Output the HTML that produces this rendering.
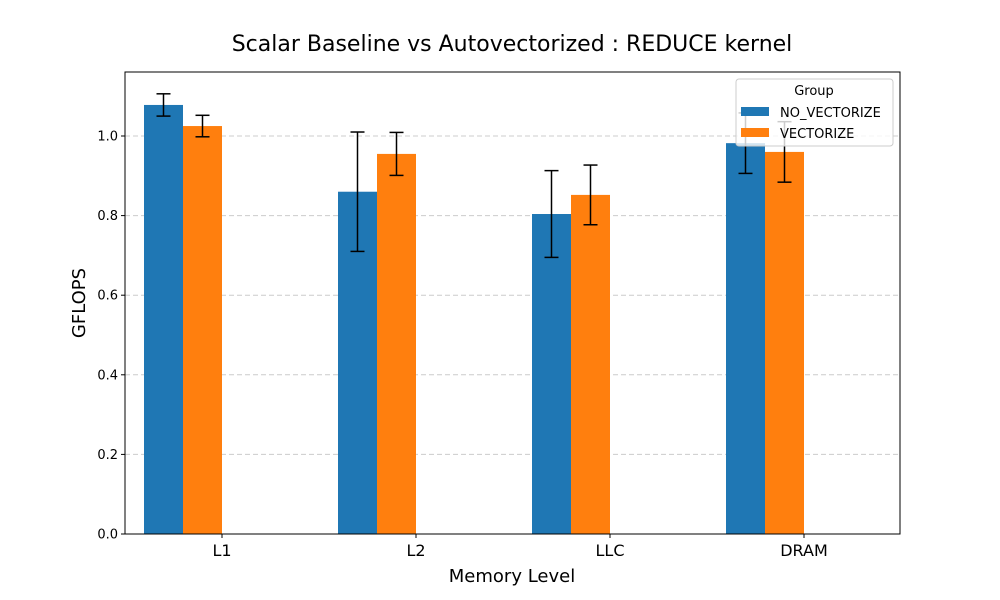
<!DOCTYPE html>
<html><head><meta charset="utf-8"><style>
body{margin:0;background:#fff;}
svg{display:block;font-family:"DejaVu Sans","Liberation Sans",sans-serif;}
</style></head><body>
<svg id="chart" width="1000" height="600">
<text x="512" y="51" font-size="22" text-anchor="middle">Scalar Baseline vs Autovectorized : REDUCE kernel</text>
<g id="grid"></g>
<g id="bars"></g>
<g id="errs"></g>
<g id="axes"></g>
<text x="512" y="582" font-size="18" text-anchor="middle">Memory Level</text>
<text transform="translate(85,303) rotate(-90)" font-size="18" text-anchor="middle">GFLOPS</text>
<g>
<rect x="736" y="79" width="157" height="67" rx="3" fill="#fff" fill-opacity="0.8" stroke="#ccc"/>
<text x="814" y="95" font-size="13" text-anchor="middle">Group</text>
<rect x="741" y="107" width="28" height="9" fill="#1f77b4"/>
<text x="780" y="117" font-size="13">NO_VECTORIZE</text>
<rect x="741" y="128" width="28" height="9" fill="#ff7f0e"/>
<text x="780" y="138" font-size="13">VECTORIZE</text>
</g>
</svg>
<script>
const categories=["L1","L2","LLC","DRAM"];
const noVec=[1.078,0.860,0.804,0.982];
const noVecErr=[0.028,0.150,0.109,0.076];
const vec=[1.025,0.955,0.852,0.960];
const vecErr=[0.027,0.054,0.075,0.076];
const yTicks=[0,0.2,0.4,0.6,0.8,1.0];
const yTickLabels=["0.0","0.2","0.4","0.6","0.8","1.0"];

const NS="http://www.w3.org/2000/svg";
const L=125,R=900,T=72,B=534,YMAX=1.1608;
const y=v=>B-v/YMAX*(B-T);
const x=i=>222+i*194;
function mk(tag,attrs,parent,txt){const e=document.createElementNS(NS,tag);for(const k in attrs)e.setAttribute(k,attrs[k]);if(txt!==undefined)e.textContent=txt;document.getElementById(parent).appendChild(e);return e;}
yTicks.forEach((t,i)=>{
  if(t>0){const g=mk('line',{x1:L,x2:R,y1:y(t),y2:y(t),stroke:'#ccc','stroke-dasharray':'5,3'},'grid');
  
  }
  const tk=mk('line',{x1:L-4,x2:L,y1:y(t),y2:y(t),stroke:'#000'},'axes');
  
  
  const tl=mk('text',{x:L-7,y:y(t)+4.5,'font-size':13,'text-anchor':'end'},'axes',yTickLabels[i]);
  
  
});
const W=39;
function err(cx,v,e){
  const g=[['line',{x1:cx,x2:cx,y1:y(v+e),y2:y(v-e)}],['line',{x1:cx-7,x2:cx+7,y1:y(v+e),y2:y(v+e)}],['line',{x1:cx-7,x2:cx+7,y1:y(v-e),y2:y(v-e)}]];
  g.forEach(([t,a])=>{a.stroke='#000';a['stroke-width']=1.5;const el=mk(t,a,'errs');
  
  });
}
categories.forEach((c,i)=>{
  const cx=x(i);
  const b1=mk('rect',{x:cx-2*W,y:y(noVec[i]),width:W,height:B-y(noVec[i]),fill:'#1f77b4'},'bars');
  
  
  const b2=mk('rect',{x:cx-W,y:y(vec[i]),width:W,height:B-y(vec[i]),fill:'#ff7f0e'},'bars');
  
  
  err(cx-1.5*W,noVec[i],noVecErr[i]);
  err(cx-0.5*W,vec[i],vecErr[i]);
  const tk=mk('line',{x1:cx,x2:cx,y1:B,y2:B+4,stroke:'#000'},'axes');
  
  
  const tl=mk('text',{x:cx,y:B+22,'font-size':16,'text-anchor':'middle'},'axes',c);
  
  
});
const frame=mk('rect',{x:L,y:T,width:R-L,height:B-T,fill:'none',stroke:'#000','stroke-width':1},'axes');


</script>
</body></html>
